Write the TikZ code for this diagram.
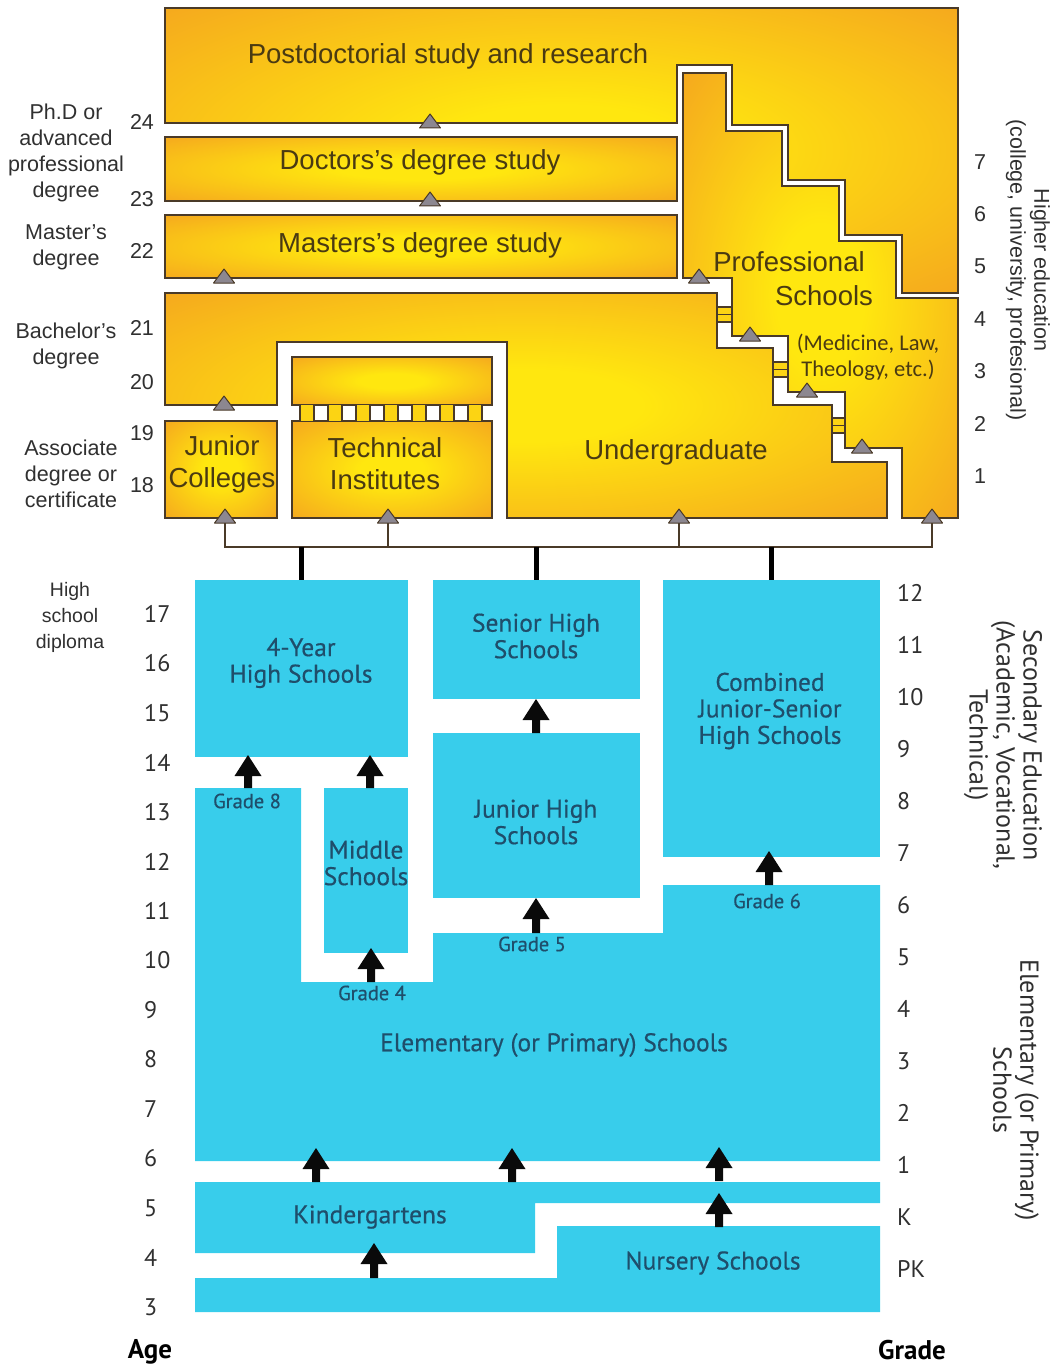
\documentclass[tikz,border=0pt]{standalone}
\usepackage{fontspec}
\setmainfont{Liberation Sans}
\newfontfamily\ptsans{PT Sans}
\newfontfamily\ptsemi[FakeBold=0.5]{PT Sans}
\newfontfamily\carlito{Carlito}
\usetikzlibrary{shapes.geometric}

\definecolor{orangeC}{HTML}{F5A81E}
\definecolor{yellowC}{HTML}{FFE70F}
\definecolor{edgeC}{HTML}{4A3A28}
\definecolor{triC}{HTML}{8C8790}
\definecolor{blueC}{HTML}{38CDEB}
\definecolor{blueTxt}{HTML}{1F4E6B}
\definecolor{brownTxt}{HTML}{4A3A12}
\definecolor{grayTxt}{HTML}{303030}
\definecolor{arrowC}{HTML}{0A0A0A}

\pgfdeclareradialshading{glow}{\pgfpoint{0bp}{0bp}}{color(0bp)=(yellowC); color(8bp)=(yellowC); color(36bp)=(orangeC); color(50bp)=(orangeC)}

% solid up-arrow: x, tail y, tip y
\newcommand\uparr[3]{\fill[arrowC] ({#1-4},#2) -- ({#1-4},{#3+21}) -- ({#1-13.5},{#3+21}) -- (#1,#3) -- ({#1+13.5},{#3+21}) -- ({#1+4},{#3+21}) -- ({#1+4},#2) -- cycle;}

\tikzset{
  obox/.style={shade, shading=glow, draw=edgeC, line width=1.8pt, line join=miter},
  rung/.style={fill=yellowC!70!orangeC, draw=edgeC, line width=1.4pt},
  trist/.style={fill=triC, draw=edgeC, line width=1pt, line join=round},
  conn/.style={draw=edgeC, line width=1.6pt},
  stub/.style={draw=black, line width=5pt},
  otext/.style={text=brownTxt, font=\fontsize{27.5}{31}\selectfont, inner sep=0pt},
  agelbl/.style={text=grayTxt, font=\fontsize{21.5}{26}\selectfont, align=center, inner sep=0pt},
  bbox/.style={fill=blueC, inner sep=0pt, outer sep=0pt},
  btext/.style={text=blueTxt, font=\ptsemi\fontsize{25.5}{26.5}\selectfont, align=center, inner sep=0pt},
  gtext/.style={text=blueTxt, font=\ptsemi\fontsize{20.5}{22}\selectfont, inner sep=0pt},
  numlbl/.style={text=grayTxt, font=\ptsans\fontsize{24}{26}\selectfont, anchor=west, inner sep=0pt},
  side/.style={text=grayTxt, font=\ptsans\fontsize{26}{27}\selectfont, align=center, rotate=-90, inner sep=0pt},
}

\begin{document}
\begin{tikzpicture}[x=1pt,y=-1pt]
\useasboundingbox (0,0) rectangle (1057,1372);

% ---------------- higher education ----------------
% postdoctoral block
\path[obox] (165,8) -- (958,8) -- (958,293) -- (902,293) -- (902,235) -- (845,235)
  -- (845,180) -- (788,180) -- (788,125) -- (732,125) -- (732,65) -- (677,65)
  -- (677,123) -- (165,123) -- cycle;
% doctor's and master's study
\path[obox] (165,137) rectangle (677,201);
\path[obox] (165,215) rectangle (677,278);
% professional schools staircase
\path[obox] (683,73) -- (726,73) -- (726,131) -- (782,131) -- (782,186) -- (839,186)
  -- (839,241) -- (896,241) -- (896,298) -- (958,298) -- (958,518) -- (902,518)
  -- (902,448) -- (845,448) -- (845,392) -- (788,392) -- (788,336) -- (732,336)
  -- (732,278) -- (683,278) -- cycle;
% undergraduate
\path[obox] (165,293) -- (717,293) -- (717,348) -- (773,348) -- (773,405) -- (832,405)
  -- (832,462) -- (887,462) -- (887,518) -- (507,518) -- (507,342) -- (277,342)
  -- (277,405) -- (165,405) -- cycle;
% junior colleges and technical institutes
\path[obox] (165,421) rectangle (277,518);
\path[obox] (292,357) rectangle (492,405);
\path[obox] (292,421) rectangle (492,518);

% ladder linking the technical institute blocks
\foreach \k in {0,...,6}
  \fill[yellowC!70!orangeC] ({300+28*\k},405) rectangle ({314+28*\k},421);
\foreach \j in {0,...,13}
  \draw[edgeC, line width=1.4pt] ({300+14*\j},405) -- ({300+14*\j},421);

% ladders between undergraduate and professional schools
\foreach \xa/\xb/\ya in {717/732/307, 773/788/362, 832/845/418} {
  \path[rung] (\xa,\ya) rectangle (\xb,\ya+15);
  \draw[edgeC, line width=1.2pt] (\xa,\ya+7.5) -- (\xb,\ya+7.5);
}

% entry points (triangles)
\coordinate (tPD) at (430,123);
\coordinate (tDR) at (430,201);
\coordinate (tMS) at (224,278);
\coordinate (tPS) at (699,278);
\coordinate (tP2) at (750,336);
\coordinate (tP3) at (807,392);
\coordinate (tP4) at (862,448);
\coordinate (tBA) at (224,405);
\coordinate (tJC) at (225,518);
\coordinate (tTI) at (388,518);
\coordinate (tUG) at (679,518);
\coordinate (tRT) at (932,518);

% distribution bus from secondary schools
\coordinate (busL) at (225,547);
\coordinate (busR) at (932,547);
\draw[conn] (tJC) -- (busL) -- (busR) -- (tRT);
\draw[conn] (tTI) -- (tTI |- busL);
\draw[conn] (tUG) -- (tUG |- busL);

\foreach \t in {tPD,tDR,tMS,tPS,tP2,tP3,tP4,tBA,tJC,tTI,tUG,tRT}
  \filldraw[trist] (\t) ++(-10.5,5) -- ++(21,0) -- ++(-10.5,-14) -- cycle;

% labels in the higher education blocks
\node[otext] (lPD) at (448,56) {Postdoctorial study and research};
\node[otext] (lDR) at (420,162) {Doctors's degree study};
\node[otext] (lMS) at (420,245) {Masters's degree study};
\node[otext] (lPS1) at (789,262) {Professional};
\node[otext] (lPS2) at (824,296) {Schools};
\node[text=brownTxt, font=\carlito\fontsize{22.5}{25.5}\selectfont, align=center, inner sep=0pt] (lPS3) at (868,357) {(Medicine, Law,\\Theology, etc.)};
\node[otext] (lUG) at (676,452) {Undergraduate};
\node[otext, align=center] (lJC) at (222,464) {Junior\\[1pt]Colleges};
\node[otext, align=center] (lTI) at (385,464) {Technical\\[1pt]Institutes};

% age column and degrees (upper part)
\node[agelbl] (dPhD) at (66,153) {Ph.D or\\advanced\\professional\\degree};
\node[agelbl] (dMS) at (66,247) {Master's\\degree};
\node[agelbl] (dBA) at (66,346) {Bachelor's\\degree};
\node[agelbl] (dAS) at (71,474) {Associate\\degree or\\certificate};
\foreach \n/\yy in {24/122, 23/199, 22/251, 21/328, 20/382, 19/433, 18/485}
  \node[agelbl] (a\n) at (142,\yy) {\n};
\foreach \n [count=\i from 0] in {7,6,5,4,3,2,1}
  \node[agelbl] (y\n) at (980,{162+52.3*\i}) {\n};
\node[text=grayTxt, font=\fontsize{21.5}{24}\selectfont, align=center, rotate=-90, inner sep=0pt] (hiEd) at (1028,270) {Higher education\\(college, university, profesional)};

% ---------------- secondary and elementary ----------------
\node[bbox, minimum width=213pt, minimum height=177pt] (hs4) at (301.5,668.5) {};
\node[bbox, minimum width=207pt, minimum height=119pt] (shs) at (536.5,639.5) {};
\node[bbox, minimum width=207pt, minimum height=165pt] (jhs) at (536.5,815.5) {};
\node[bbox, minimum width=217pt, minimum height=277pt] (cmb) at (771.5,718.5) {};
\node[bbox, minimum width=84pt, minimum height=165pt] (mid) at (366,870.5) {};
\fill[blueC] (195,788) -- (301,788) -- (301,982) -- (433,982) -- (433,933) -- (663,933)
  -- (663,885) -- (880,885) -- (880,1161) -- (195,1161) -- cycle;
\fill[blueC] (195,1182) -- (880,1182) -- (880,1203) -- (535,1203) -- (535,1253)
  -- (195,1253) -- cycle;
\fill[blueC] (557,1226) -- (880,1226) -- (880,1312) -- (195,1312) -- (195,1278)
  -- (557,1278) -- cycle;

% links from the bus down to the high schools
\draw[stub] (hs4.north |- busL) -- (hs4.north);
\draw[stub] (shs.north |- busL) -- (shs.north);
\draw[stub] (cmb.north |- busL) -- (cmb.north);

% progression arrows
\uparr{248}{788}{755}
\uparr{370}{788}{755}
\uparr{536}{733}{699}
\uparr{536}{933}{898}
\uparr{769}{885}{851}
\uparr{371}{982}{948}
\uparr{316}{1182}{1148}
\uparr{512}{1182}{1148}
\uparr{719}{1181}{1147}
\uparr{719}{1227}{1193}
\uparr{374}{1278}{1243}

% school labels
\node[btext] (l4y) at (301,663) {4-Year\\High Schools};
\node[btext] (lsh) at (536,636) {Senior High\\Schools};
\node[btext] (ljh) at (536,822) {Junior High\\Schools};
\node[btext] (lcb) at (770,711) {Combined\\Junior-Senior\\High Schools};
\node[btext] (lmd) at (366,863) {Middle\\Schools};
\node[btext] (lel) at (554,1045) {Elementary (or Primary) Schools};
\node[btext] (lkg) at (370,1217) {Kindergartens};
\node[btext] (lns) at (713,1263) {Nursery Schools};
\node[gtext] (g8) at (247,801) {Grade 8};
\node[gtext] (g4) at (372,993) {Grade 4};
\node[gtext] (g5) at (532,944) {Grade 5};
\node[gtext] (g6) at (767,901) {Grade 6};

% age scale (lower part)
\node[text=grayTxt, font=\fontsize{19.5}{26}\selectfont, align=center, inner sep=0pt] (hsd) at (70,617) {High\\school\\diploma};
\foreach \n [count=\i from 0] in {17,16,15,14,13,12,11,10,9,8,7,6,5,4,3}
  \node[numlbl] (b\n) at (144,{614+49.5*\i}) {\n};
% grade scale
\foreach \n [count=\i from 0] in {12,11,10,9,8,7,6,5,4,3,2,1,K,PK}
  \node[numlbl] (c\i) at (897,{593+52*\i}) {\n};

\node[side] (sec) at (1003,745) {Secondary Education\\(Academic, Vocational,\\Technical)};
\node[side] (ele) at (1016,1090) {Elementary (or Primary)\\Schools};

\node[text=black, font=\ptsans\bfseries\fontsize{27}{28}\selectfont, inner sep=0pt] (age) at (150,1352) {Age};
\node[text=black, font=\ptsans\bfseries\fontsize{27}{28}\selectfont, inner sep=0pt] (grd) at (912,1350) {Grade};
\end{tikzpicture}
\end{document}
